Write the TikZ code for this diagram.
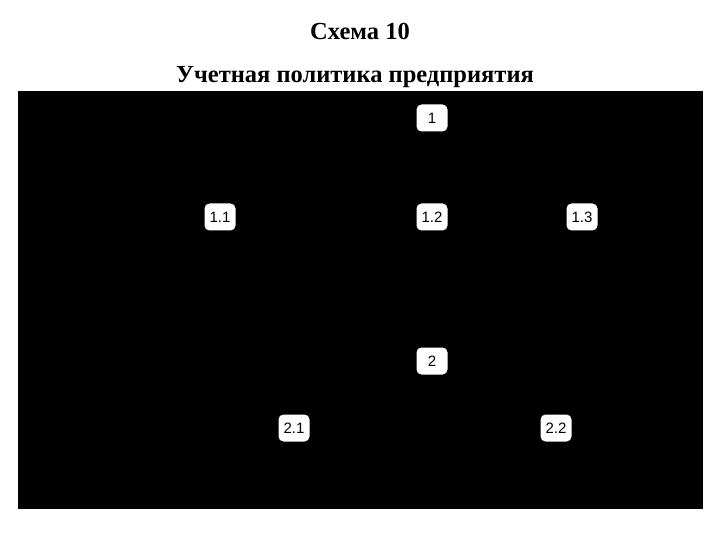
\documentclass[tikz,border=0pt]{standalone}
\usepackage{fontspec}
\setmainfont{Liberation Serif}
\newfontfamily\labelfont{Liberation Sans}
\begin{document}
\begin{tikzpicture}[x=1pt,y=-1pt,
  titletext/.style={font=\fontsize{24.5}{28}\selectfont\bfseries, inner sep=0pt, anchor=base},
  numbox/.style={fill=white, rounded corners=5pt, minimum width=31pt, minimum height=27pt, inner sep=1pt, font=\labelfont\fontsize{15}{17}\selectfont}]
\useasboundingbox (0,0) rectangle (720,540);
\fill[white] (0,0) rectangle (720,540);
\node[titletext] (t1) at (360,40) {Схема 10};
\node[titletext] (t2) at (355,83) {Учетная политика предприятия};
\fill[black] (18,91) rectangle (703,509);
\node[numbox] (n1) at (432,118) {1};
\node[numbox] (n11) at (220,217) {1.1};
\node[numbox] (n12) at (432,217) {1.2};
\node[numbox] (n13) at (582,217) {1.3};
\node[numbox] (n2) at (432,361) {2};
\node[numbox] (n21) at (294,428) {2.1};
\node[numbox] (n22) at (556,428) {2.2};
\end{tikzpicture}
\end{document}
